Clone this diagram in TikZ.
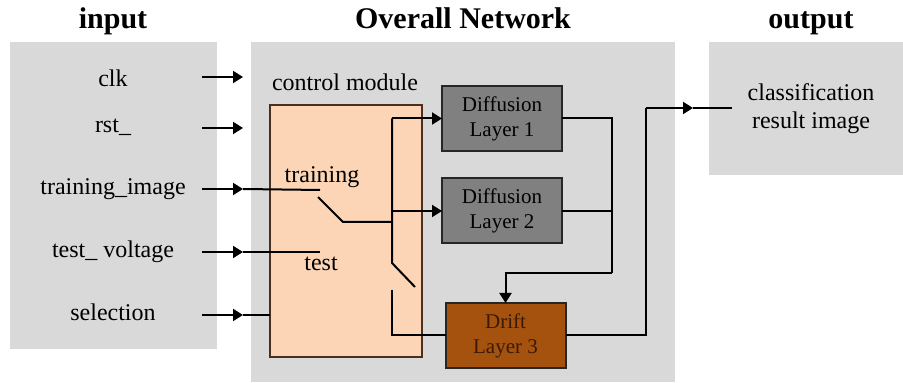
\documentclass[tikz,border=0pt]{standalone}
\usepackage{fontspec}
\setmainfont{Liberation Serif}
\usetikzlibrary{arrows.meta,positioning}
\definecolor{panelgray}{HTML}{D9D9D9}
\definecolor{ctrlfill}{HTML}{FBD5B5}
\definecolor{ctrlline}{HTML}{4A2E1E}
\definecolor{difffill}{HTML}{808080}
\definecolor{driftfill}{HTML}{A5520F}
\definecolor{drifttext}{HTML}{3A1A05}
\tikzstyle{panel} = [rectangle,fill=panelgray,draw=none,outer sep=0pt,inner sep=0pt]
\tikzstyle{title} = [font=\fontsize{15}{17}\selectfont\bfseries,anchor=base,inner sep=0pt]
\tikzstyle{sig} = [font=\fontsize{12}{14}\selectfont,anchor=base,inner sep=0pt]
\tikzstyle{ctrl} = [rectangle,fill=ctrlfill,draw=ctrlline,line width=0.6pt,outer sep=0pt]
\tikzstyle{layer} = [rectangle,draw=black!85,line width=1pt,minimum width=60pt,minimum height=32.5pt,align=center,font=\fontsize{10.5}{12.5}\selectfont,outer sep=0pt,inner sep=0pt]
\tikzstyle{wire} = [draw,line width=1pt]
\tikzstyle{edge} = [draw,line width=1pt,-{Triangle[length=5pt,width=6pt]}]

\begin{document}
\begin{tikzpicture}[x=0.5pt,y=-0.5pt]
    \useasboundingbox (0,0) rectangle (903,383);
    % grey panels and their titles
    \node[panel,minimum width=103.5pt,minimum height=153.5pt] (inbox) at (113.5,195.5) {};
    \node[panel,minimum width=212pt,minimum height=170pt] (netbox) at (463,212) {};
    \node[panel,minimum width=97pt,minimum height=66.5pt] (outbox) at (806,108.5) {};
    \node[title] (tin) at (113,29) {input};
    \node[title] (tnet) at (463,29) {Overall Network};
    \node[title] (tout) at (811,29) {output};

    % input signals and their arrows
    \foreach \y/\name/\txt in {87/clk/clk, 133/rst/rst\_, 195/trn/training\_image, 258/tst/test\_ voltage, 321/sel/selection}
        \node[sig] (\name) at (113,\y) {\txt};
    \foreach \y/\name in {77/clk, 128/rst, 189/trn, 252/tst, 315/sel} {
        \coordinate (\name-s) at (202,\y);
        \coordinate (\name-t) at (243,\y);
        \draw[edge] (\name-s) -- (\name-t);
    }

    % control module with its two switches
    \node[ctrl,minimum width=76pt,minimum height=126pt] (ctrl) at (346,231) {};
    \node[sig] (ctrltxt) at (345,91) {control module};
    \node[sig] (trntxt) at (322,183) {training};
    \node[sig] (tsttxt) at (321,271) {test};

    % layers
    \node[layer,fill=difffill] (dl1) at (502,118.5) {Diffusion\\Layer 1};
    \node[layer,fill=difffill] (dl2) at (502,211) {Diffusion\\Layer 2};
    \node[layer,fill=driftfill,text=drifttext] (dl3) at (505.5,335.5) {Drift\\Layer 3};
    \node[sig,anchor=center,align=center] (res) at (811,109) {classification\\result image};

    \coordinate (trnc) at (320,190);
    \coordinate (tstc) at (320,252);
    \coordinate (b1a) at (318,197);
    \coordinate (b1b) at (343,222);
    \coordinate (bus1) at (392,118.5);
    \coordinate (bus2) at (392,211);
    \coordinate (bus3) at (392,222);
    \coordinate (b2a) at (392,263);
    \coordinate (b2b) at (415,287);
    \coordinate (lc) at (392,290);
    \coordinate (mrg) at (612,273);
    \coordinate (oup) at (646,108);
    \coordinate (otip) at (693,108);
    \coordinate (oend) at (732,108);

    \draw[wire] (trn-t) -- (trnc);
    \draw[wire] (tst-t) -- (tstc);
    \draw[wire] (sel-t) -- (ctrl.west |- sel-t);
    \draw[wire] (b1a) -- (b1b) -- (bus3);
    \draw[wire] (bus1) -- (b2a) -- (b2b);
    \draw[edge] (bus1) -- (dl1.west);
    \draw[edge] (bus2) -- (dl2.west);
    \draw[wire] (lc) |- (dl3.west);

    % outputs of the layers
    \draw[wire] (dl1.east) -| (mrg);
    \draw[wire] (dl2.east) -- (dl2.east -| mrg);
    \draw[edge] (mrg) -| (dl3.north);
    \draw[wire] (dl3.east) -| (oup);
    \draw[edge] (oup) -- (otip);
    \draw[wire] (otip) -- (oend);
\end{tikzpicture}
\end{document}
